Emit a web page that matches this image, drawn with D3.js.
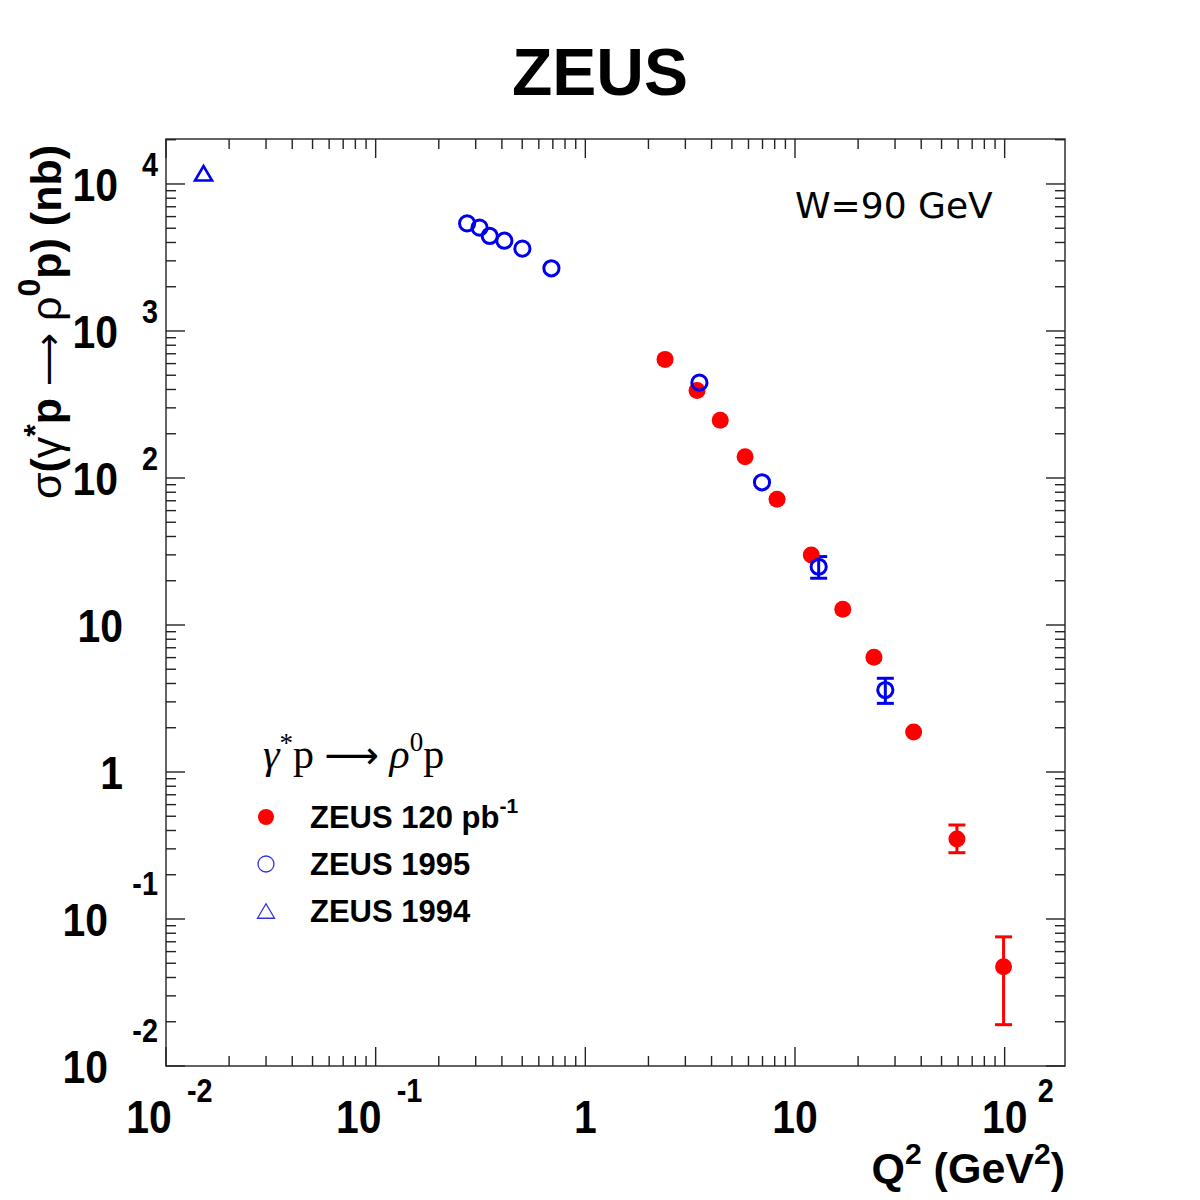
<!DOCTYPE html>
<html>
<head>
<meta charset="utf-8">
<script src="https://cdn.jsdelivr.net/npm/d3@7"></script>
<style>
  html, body { margin: 0; padding: 0; background: #fff; }
  svg { display: block; }
</style>
</head>
<body>
<svg id="chart" width="1200" height="1200"></svg>
<script>
// ---------------- data ----------------
const zeus120Q2    = [2.40, 3.41, 4.40, 5.78, 8.21, 11.96, 16.9, 23.8, 36.8, 59.2, 98.8];
const zeus120Sigma = [641, 393, 247, 139.7, 71.6, 29.9, 12.8, 6.03, 1.87, 0.350, 0.0474];
const zeus120ErrLo = [null, null, null, null, null, null, null, null, null, 0.2825, 0.0191];
const zeus120ErrHi = [null, null, null, null, null, null, null, null, null, 0.436, 0.0756];

const zeus1995Q2    = [0.273, 0.313, 0.350, 0.411, 0.501, 0.689, 3.50, 6.96, 12.97, 26.97];
const zeus1995Sigma = [5400, 5045, 4430, 4113, 3630, 2670, 445, 93.5, 24.9, 3.61];
const zeus1995ErrLo = [null, null, null, null, null, null, null, null, 20.8, 2.93];
const zeus1995ErrHi = [null, null, null, null, null, null, null, null, 29.2, 4.34];

const zeus1994Q2    = [0.0151];
const zeus1994Sigma = [11830];

const xMajorTicks = [0.01, 0.1, 1, 10, 100];
const xTickLabels = [["10", "-2"], ["10", "-1"], ["1", null], ["10", null], ["10", "2"]];
const yMajorTicks = [0.01, 0.1, 1, 10, 100, 1000, 10000];
const yTickLabels = [["10", "-2"], ["10", "-1"], ["1", null], ["10", null], ["10", "2"], ["10", "3"], ["10", "4"]];

const legendLabels = ["ZEUS 120 pb", "ZEUS 1995", "ZEUS 1994"];

// ---------------- setup ----------------
const svg = d3.select("#chart");
const L = 166, R = 1065, T = 139, B = 1066;
const x = d3.scaleLog().domain([0.01, 194]).range([L, R]);
const y = d3.scaleLog().domain([0.01, 20230]).range([B, T]);

const RED = "#ff0000", BLUE = "#0000ee";
const bold = "'Liberation Sans', Arial, Helvetica, sans-serif";

// minor ticks
function minorTicks(lo, hi) {
  const out = [];
  for (let e = Math.floor(Math.log10(lo)); e <= Math.ceil(Math.log10(hi)); e++) {
    for (let m = 1; m <= 9; m++) {
      const v = m * Math.pow(10, e);
      if (v >= lo * 0.9999 && v <= hi * 1.0001) out.push({ v, major: m === 1 });
    }
  }
  return out;
}
const xt = minorTicks(0.01, 194);
const yt = minorTicks(0.01, 20230);

const axisG = svg.append("g").attr("stroke", "#222").attr("stroke-width", 1.4);
xt.forEach(t => {
  const px = x(t.v), len = t.major ? 19 : 10;
  axisG.append("line").attr("x1", px).attr("x2", px).attr("y1", B).attr("y2", B - len);
  axisG.append("line").attr("x1", px).attr("x2", px).attr("y1", T).attr("y2", T + len);
});
yt.forEach(t => {
  const py = y(t.v), len = t.major ? 19 : 10;
  axisG.append("line").attr("x1", L).attr("x2", L + len).attr("y1", py).attr("y2", py);
  axisG.append("line").attr("x1", R).attr("x2", R - len).attr("y1", py).attr("y2", py);
});
axisG.append("rect").attr("x", L).attr("y", T).attr("width", R - L).attr("height", B - T)
  .attr("fill", "none");

// ---------------- tick labels ----------------
const lab = svg.append("g").attr("font-family", bold).attr("font-weight", "bold").attr("fill", "#000");
function lbl(xp, yp, anchor, size, s) {
  return lab.append("text").attr("transform", `translate(${xp},${yp}) scale(0.93,1.06)`)
    .attr("text-anchor", anchor).attr("font-size", size).text(s);
}
xMajorTicks.forEach((v, i) => {
  const [base, ex] = xTickLabels[i];
  const px = x(v);
  if (ex === null) {
    lbl(px, 1133, "middle", 44, base);
  } else {
    const neg = ex.startsWith("-");
    const cx = px + (neg ? -17 : 0);
    lbl(cx, 1133, "middle", 44, base);
    lbl(cx + 23 + (neg ? 15 : 10), 1102, "start", 31, ex);
  }
});
yMajorTicks.forEach((v, i) => {
  const [base, ex] = yTickLabels[i];
  const py = y(v);
  if (ex === null) {
    lbl(123, py + 17, "end", 44, base);
  } else {
    const neg = ex.startsWith("-");
    lbl(neg ? 108 : 118, py + 17, "end", 44, base);
    lbl(158, py + 17 - (neg ? 41 : 25), "end", 31, ex);
  }
});

// ---------------- titles ----------------
svg.append("text").attr("x", 600).attr("y", 95).attr("text-anchor", "middle")
  .attr("font-family", bold).attr("font-weight", "bold").attr("font-size", 66).text("ZEUS");

const yt1 = svg.append("text")
  .attr("transform", "translate(61,322) rotate(-90)")
  .attr("text-anchor", "middle")
  .attr("font-family", bold).attr("font-weight", "bold").attr("font-size", 43);
yt1.append("tspan").attr("font-weight", "normal").text("σ");
yt1.append("tspan").text("(");
yt1.append("tspan").attr("font-weight", "normal").text("γ");
yt1.append("tspan").attr("font-size", 32).attr("dy", -15).text("*");
yt1.append("tspan").attr("dy", 15).text("p ");
yt1.append("tspan").attr("font-weight", "normal").attr("font-family", "'DejaVu Sans', sans-serif")
  .attr("font-size", 37).text("⟶");
yt1.append("tspan").attr("font-weight", "normal").text(" ρ");
yt1.append("tspan").attr("font-size", 32).attr("dy", -21).text("0");
yt1.append("tspan").attr("dy", 21).text("p) (nb)");

const xt1 = svg.append("text").attr("x", 1065).attr("y", 1183).attr("text-anchor", "end")
  .attr("font-family", bold).attr("font-weight", "bold").attr("font-size", 43);
xt1.append("tspan").text("Q");
xt1.append("tspan").attr("font-size", 30).attr("dy", -19).text("2");
xt1.append("tspan").attr("dy", 19).text(" (GeV");
xt1.append("tspan").attr("font-size", 30).attr("dy", -19).text("2");
xt1.append("tspan").attr("dy", 19).text(")");

svg.append("text").attr("x", 795).attr("y", 218)
  .attr("font-family", "'DejaVu Sans', sans-serif").attr("font-size", 36).text("W=90 GeV");

// ---------------- data marks ----------------
const dataG = svg.append("g");
function errorBars(q2, lo, hi, color) {
  q2.forEach((q, i) => {
    if (lo[i] == null) return;
    const px = x(q);
    dataG.append("line").attr("x1", px).attr("x2", px).attr("y1", y(lo[i])).attr("y2", y(hi[i]))
      .attr("stroke", color).attr("stroke-width", 3);
    [lo[i], hi[i]].forEach(v => {
      dataG.append("line").attr("x1", px - 8.5).attr("x2", px + 8.5).attr("y1", y(v)).attr("y2", y(v))
        .attr("stroke", color).attr("stroke-width", 3);
    });
  });
}
errorBars(zeus120Q2, zeus120ErrLo, zeus120ErrHi, RED);
errorBars(zeus1995Q2, zeus1995ErrLo, zeus1995ErrHi, BLUE);

zeus120Q2.forEach((q, i) => {
  dataG.append("circle").attr("cx", x(q)).attr("cy", y(zeus120Sigma[i])).attr("r", 8.5).attr("fill", RED);
});
zeus1995Q2.forEach((q, i) => {
  dataG.append("circle").attr("cx", x(q)).attr("cy", y(zeus1995Sigma[i])).attr("r", 7.6)
    .attr("fill", "none").attr("stroke", BLUE).attr("stroke-width", 3);
});
const tri = (cx, cy, s) => `M${cx - s},${cy + s * 0.85} L${cx + s},${cy + s * 0.85} L${cx},${cy - s * 0.85} Z`;
zeus1994Q2.forEach((q, i) => {
  dataG.append("path").attr("d", tri(x(q), y(zeus1994Sigma[i]), 8.5))
    .attr("fill", "none").attr("stroke", BLUE).attr("stroke-width", 2.6).attr("stroke-linejoin", "miter");
});

// ---------------- legend ----------------
const lg = svg.append("g");
const lt = lg.append("text").attr("x", 263).attr("y", 768)
  .attr("font-family", "'Liberation Serif', 'Times New Roman', serif").attr("font-size", 42);
lt.append("tspan").attr("font-style", "italic").text("γ");
lt.append("tspan").attr("font-size", 27).attr("dy", -16).text("*");
lt.append("tspan").attr("dy", 16).text("p ");
lt.append("tspan").attr("font-family", "'DejaVu Sans', sans-serif").attr("font-size", 38).text("⟶");
lt.append("tspan").attr("font-style", "italic").text(" ρ");
lt.append("tspan").attr("font-size", 27).attr("dy", -17).text("0");
lt.append("tspan").attr("dy", 17).text("p");

const rows = [817, 864, 911];
lg.append("circle").attr("cx", 266).attr("cy", rows[0]).attr("r", 8).attr("fill", RED);
lg.append("circle").attr("cx", 266).attr("cy", rows[1]).attr("r", 8).attr("fill", "none")
  .attr("stroke", "#3333dd").attr("stroke-width", 1.3);
lg.append("path").attr("d", tri(266, rows[2], 8.5)).attr("fill", "none")
  .attr("stroke", "#3333dd").attr("stroke-width", 1.3);

legendLabels.forEach((s, i) => {
  const t = lg.append("text").attr("x", 310).attr("y", rows[i] + 11)
    .attr("font-family", bold).attr("font-weight", "bold").attr("font-size", 31);
  t.append("tspan").text(s);
  if (i === 0) t.append("tspan").attr("font-size", 21).attr("dy", -15).text("-1");
});
</script>
</body>
</html>
